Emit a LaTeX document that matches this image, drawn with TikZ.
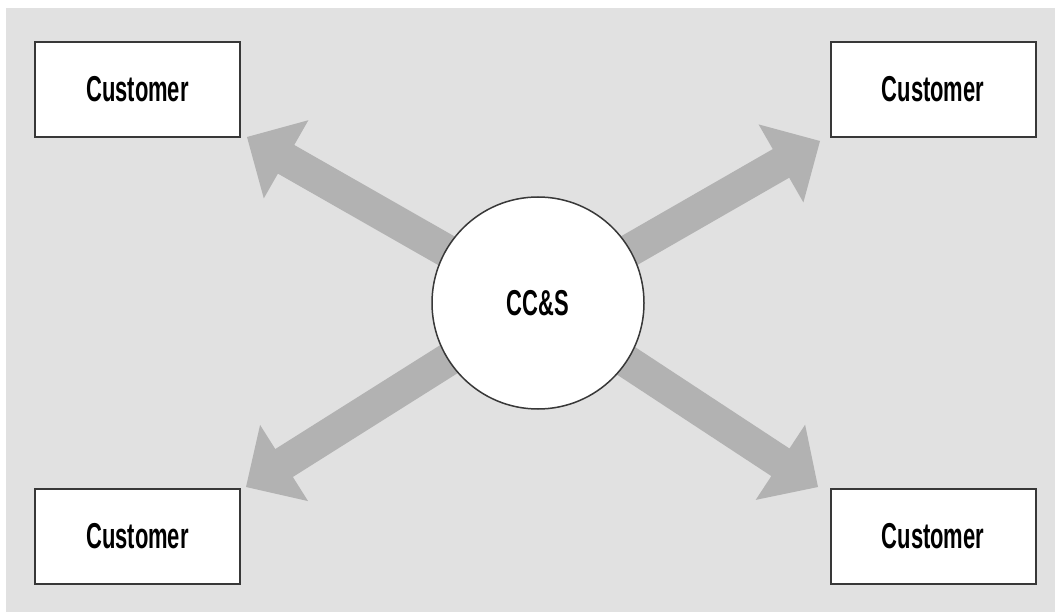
\documentclass[tikz,border=0pt]{standalone}
\usepackage{fontspec}
\setmainfont{Liberation Sans}
\usetikzlibrary{calc}
\definecolor{bggray}{HTML}{E1E1E1}
\definecolor{arrgray}{HTML}{B2B2B2}
\definecolor{edgegray}{HTML}{383838}
\newcommand{\condtext}[1]{{\fontsize{36}{36}\selectfont\bfseries\scalebox{0.61}[1]{#1}}}
\tikzset{
  custbox/.style={draw=edgegray, line width=2pt, fill=white, minimum width=205pt, minimum height=95pt, inner sep=0pt},
  hubcircle/.style={draw=edgegray, line width=1.5pt, fill=white, circle, minimum size=212pt, inner sep=0pt},
  bigarrow/.style={fill=arrgray}
}
\newcommand{\fatarrow}[2]{%
  \coordinate (tmpB) at ($(#2)!45pt!(#1)$);
  \fill[bigarrow] ($(#1)!16.5pt!90:(#2)$) -- ($(tmpB)!16.5pt!90:(#2)$) -- ($(tmpB)!45pt!90:(#2)$) -- (#2)
     -- ($(tmpB)!45pt!-90:(#2)$) -- ($(tmpB)!16.5pt!-90:(#2)$) -- ($(#1)!16.5pt!-90:(#2)$) -- cycle;}
\begin{document}
\begin{tikzpicture}[x=1pt,y=-1pt]
\useasboundingbox (0,0) rectangle (1055,612);
\fill[white] (0,0) rectangle (1055,612);
\fill[bggray] (6,8) rectangle (1055,612);
\coordinate (hubc) at (538,303);
\coordinate (tTL) at (247,137);
\coordinate (tTR) at (820,141);
\coordinate (tBL) at (246,487);
\coordinate (tBR) at (818,487);
\fatarrow{hubc}{tTL}
\fatarrow{hubc}{tTR}
\fatarrow{hubc}{tBL}
\fatarrow{hubc}{tBR}
\node[hubcircle] (hub) at (hubc) {\condtext{CC\&S}};
\node[custbox] (cTL) at (137.5,89.5) {\condtext{Customer}};
\node[custbox] (cTR) at (933,89.5) {\condtext{Customer}};
\node[custbox] (cBL) at (137.5,536) {\condtext{Customer}};
\node[custbox] (cBR) at (933,536) {\condtext{Customer}};
\end{tikzpicture}
\end{document}
